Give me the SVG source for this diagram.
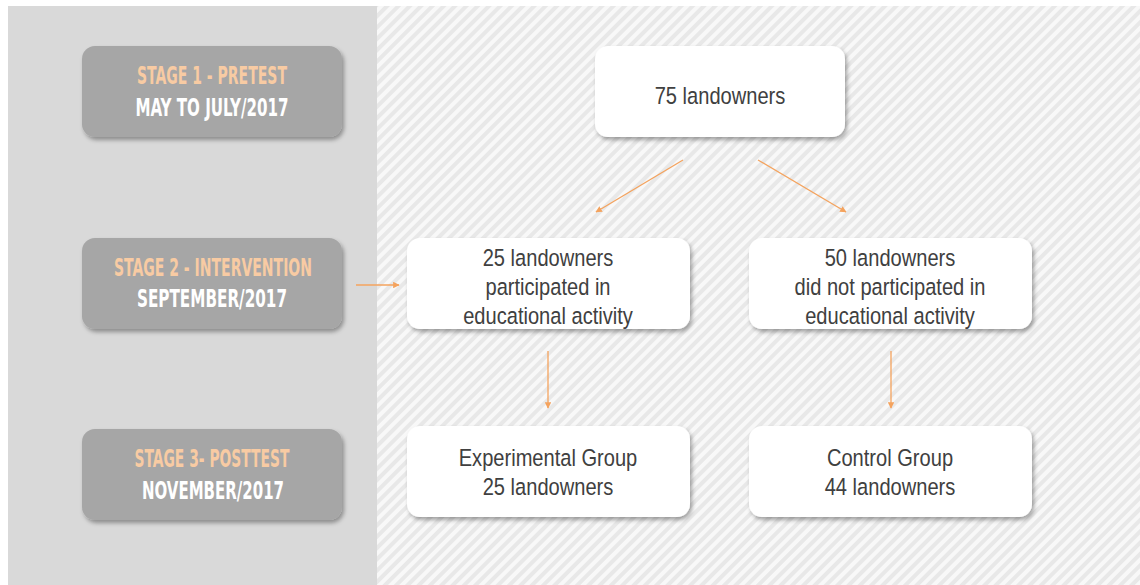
<svg xmlns="http://www.w3.org/2000/svg" width="1140" height="585" viewBox="0 0 1140 585">
<style>
.stage{fill:#a6a6a6;filter:url(#sh)}
.box{fill:#ffffff;filter:url(#sh)}
.st{font-family:"DejaVu Sans Condensed","DejaVu Sans",sans-serif;font-weight:bold;font-size:24.5px;text-anchor:middle}
.t1{fill:#f8cba3}
.t2{fill:#ffffff}
.tx{font-family:"Liberation Sans",Arial,sans-serif;font-size:24.5px;fill:#404040;text-anchor:middle}
.ar{stroke:#f4a35e;stroke-width:1.3;fill:none;marker-end:url(#ah)}
</style>
<defs>
<pattern id="hatch" patternUnits="userSpaceOnUse" width="8" height="8" patternTransform="rotate(45)">
<rect width="8" height="8" fill="#e8e8e8"/>
<rect width="4" height="8" fill="#f8f8f8"/>
</pattern>
<filter id="sh" x="-10%" y="-20%" width="125%" height="150%">
<feDropShadow dx="2" dy="3" stdDeviation="2" flood-color="#000" flood-opacity="0.35"/>
</filter>
<marker id="ah" viewBox="0 0 10 10" refX="9" refY="5" markerWidth="6.5" markerHeight="6.5" orient="auto" markerUnits="userSpaceOnUse">
<path d="M0,0 L10,5 L0,10 Z" fill="#f4a35e"/>
</marker>
</defs>
<rect x="0" y="0" width="1140" height="585" fill="#ffffff"/>
<rect x="8" y="6" width="369" height="579" fill="#d9d9d9"/>
<rect x="377" y="6" width="763" height="579" fill="url(#hatch)"/>

<g id="stage1">
<rect class="stage" x="82" y="46" width="260" height="91" rx="13"/>
<text class="st t1" x="212" y="84" textLength="150" lengthAdjust="spacingAndGlyphs">STAGE 1 - PRETEST</text>
<text class="st t2" x="212" y="116" textLength="153" lengthAdjust="spacingAndGlyphs">MAY TO JULY/2017</text>
</g>
<g id="stage2">
<rect class="stage" x="82" y="238" width="260" height="91" rx="13"/>
<text class="st t1" x="213" y="276" textLength="198" lengthAdjust="spacingAndGlyphs">STAGE 2 - INTERVENTION</text>
<text class="st t2" x="212" y="307" textLength="150" lengthAdjust="spacingAndGlyphs">SEPTEMBER/2017</text>
</g>
<g id="stage3">
<rect class="stage" x="82" y="429" width="260" height="91" rx="13"/>
<text class="st t1" x="212" y="467" textLength="155" lengthAdjust="spacingAndGlyphs">STAGE 3- POSTTEST</text>
<text class="st t2" x="213" y="499" textLength="142" lengthAdjust="spacingAndGlyphs">NOVEMBER/2017</text>
</g>

<g id="n75">
<rect class="box" x="595" y="46" width="250" height="91" rx="13"/>
<text class="tx" transform="translate(720 104) scale(0.82 1)">75 landowners</text>
</g>
<g id="n25">
<rect class="box" x="407" y="238" width="283" height="91" rx="13"/>
<text class="tx" transform="translate(548 266) scale(0.82 1)">25 landowners</text>
<text class="tx" transform="translate(548 295) scale(0.82 1)">participated in</text>
<text class="tx" transform="translate(548 324) scale(0.82 1)">educational activity</text>
</g>
<g id="n50">
<rect class="box" x="749" y="238" width="283" height="91" rx="13"/>
<text class="tx" transform="translate(890 266) scale(0.82 1)">50 landowners</text>
<text class="tx" transform="translate(890 295) scale(0.82 1)">did not participated in</text>
<text class="tx" transform="translate(890 324) scale(0.82 1)">educational activity</text>
</g>
<g id="nexp">
<rect class="box" x="407" y="426" width="283" height="91" rx="13"/>
<text class="tx" transform="translate(548 466) scale(0.82 1)">Experimental Group</text>
<text class="tx" transform="translate(548 495) scale(0.82 1)">25 landowners</text>
</g>
<g id="nctl">
<rect class="box" x="749" y="426" width="283" height="91" rx="13"/>
<text class="tx" transform="translate(890 466) scale(0.82 1)">Control Group</text>
<text class="tx" transform="translate(890 495) scale(0.82 1)">44 landowners</text>
</g>

<g id="connectors">
<line class="ar" x1="683" y1="160" x2="596" y2="212"/>
<line class="ar" x1="758" y1="160" x2="846" y2="212"/>
<line class="ar" x1="548" y1="351" x2="548" y2="408"/>
<line class="ar" x1="891" y1="351" x2="891" y2="408"/>
<line class="ar" x1="356" y1="285" x2="399" y2="285"/>
</g>
</svg>
